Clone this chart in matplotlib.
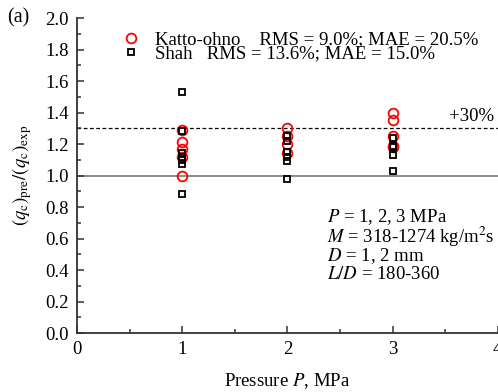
import matplotlib
matplotlib.use('Agg')
import matplotlib.pyplot as plt
from matplotlib.ticker import MultipleLocator

plt.rcParams['font.family'] = ['Liberation Serif', 'DejaVu Serif']
plt.rcParams['mathtext.fontset'] = 'stix'

# data
p_katto = [1, 1, 1, 1, 1, 2, 2, 2, 2, 3, 3, 3, 3, 3]
r_katto = [1.29, 1.21, 1.17, 1.12, 1.00, 1.30, 1.25, 1.20, 1.14, 1.40, 1.35, 1.25, 1.19, 1.18]
p_shah = [1, 1, 1, 1, 1, 1, 1, 2, 2, 2, 2, 2, 2, 3, 3, 3, 3, 3]
r_shah = [1.53, 1.28, 1.14, 1.12, 1.10, 1.07, 0.88, 1.25, 1.22, 1.15, 1.12, 1.09, 0.98,
          1.24, 1.19, 1.18, 1.13, 1.03]
lab_katto = 'Katto-ohno    RMS = 9.0%; MAE = 20.5%'
lab_shah = 'Shah   RMS = 13.6%; MAE = 15.0%'
conditions = ['$P$ = 1, 2, 3 MPa', '$M$ = 318-1274 kg/m$^2$s', '$D$ = 1, 2 mm', '$L/D$ = 180-360']

fs = 13.5
fig = plt.figure(figsize=(4.98, 3.92), dpi=100)
ax = fig.add_axes([0.1546, 0.1505, 0.845, 0.8035])

ax.axhline(1.0, color='#777777', lw=1.2, zorder=1)
ax.axhline(1.3, color='black', lw=0.9, ls=(0, (3, 2)), zorder=1)

ax.plot(p_katto, r_katto, 'o', mfc='none', mec='red', mew=1.3, ms=7, label=lab_katto, zorder=3)
ax.plot(p_shah, r_shah, 's', mfc='none', mec='black', mew=1.3, ms=4.8, label=lab_shah, zorder=4)

ax.set_xlim(0, 4)
ax.set_ylim(0, 2.0)
ax.xaxis.set_major_locator(MultipleLocator(1))
ax.xaxis.set_minor_locator(MultipleLocator(0.5))
ax.yaxis.set_major_locator(MultipleLocator(0.2))
ax.yaxis.set_minor_locator(MultipleLocator(0.1))
ax.yaxis.set_major_formatter(plt.FuncFormatter(lambda v, _: '%.1f' % v))
ax.tick_params(which='both', direction='in', labelsize=fs, colors='#333333', labelcolor='black',
               top=False, right=False)
ax.tick_params(which='major', length=5, width=1.1, pad=6)
ax.tick_params(which='minor', length=3, width=1.1)
for s in ['top', 'right']:
    ax.spines[s].set_visible(False)
for s in ['left', 'bottom']:
    ax.spines[s].set_color('#333333')
    ax.spines[s].set_linewidth(1.3)

ax.set_xlabel('Pressure $P$, MPa', fontsize=fs, labelpad=9)
ax.set_ylabel(r'$(q_\mathrm{c})_\mathrm{pre}/(q_\mathrm{c})_\mathrm{exp}$', fontsize=fs, labelpad=8)

ax.legend(loc='upper left', bbox_to_anchor=(0.075, 1.0), frameon=False, fontsize=fs,
          handlelength=1.0, handletextpad=0.8, labelspacing=-0.16, borderpad=0.2)

ax.text(3.75, 1.32, '+30%', fontsize=fs, ha='center', va='bottom')
for i, t in enumerate(conditions):
    ax.text(2.38, 0.735 - i * 0.122, t, fontsize=fs, va='center')
fig.text(0.015, 0.955, '(a)', fontsize=fs + 1, va='center')

fig.savefig('out.png', dpi=100)
